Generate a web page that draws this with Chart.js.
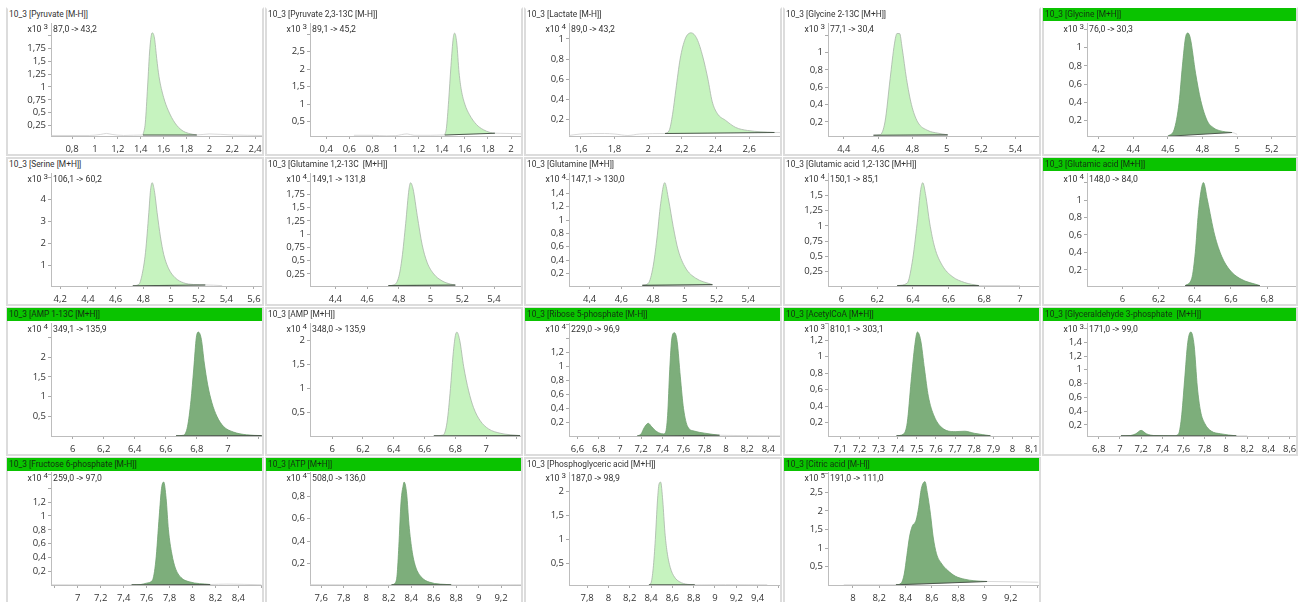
<!DOCTYPE html>
<html lang="en">
<head>
    <meta charset="UTF-8">
    <title>MRM peaks 10_3</title>
    <script src="https://cdn.jsdelivr.net/npm/chart.js@4"></script>
    <style>
        html, body { margin: 0; padding: 0; background: #fff; overflow: hidden; }
        body { width: 1300px; height: 602px; position: relative; font-family: Roboto, sans-serif; color: #333; filter: blur(0.35px); }
        .panel { position: absolute; box-sizing: border-box; border: 2px solid #dcdcdc; background: #fff; }
        .panel.first { border-top-color: transparent; }
        .title { position: absolute; left: -1px; right: 0; top: -1px; height: 13px; line-height: 13px; font-size: 8.4px; padding-left: 2px; white-space: pre; overflow: hidden; }
        .title.on { background: #0ac300; color: #123310; }
        canvas { position: absolute; }
        .label { position: absolute; font-size: 8.7px; line-height: 12px; white-space: nowrap; color: #333; }
        .label sup { font-size: 8px; line-height: 0; vertical-align: 3px; margin-left: 2px; }
    </style>
</head>
<body>
<script>
    const titles = [
        '10_3 [Pyruvate [M-H]]', '10_3 [Pyruvate 2,3-13C [M-H]]', '10_3 [Lactate [M-H]]', '10_3 [Glycine 2-13C [M+H]]', '10_3 [Glycine [M+H]]',
        '10_3 [Serine [M+H]]', '10_3 [Glutamine 1,2-13C  [M+H]]', '10_3 [Glutamine [M+H]]', '10_3 [Glutamic acid 1,2-13C [M+H]]', '10_3 [Glutamic acid [M+H]]',
        '10_3 [AMP 1-13C [M+H]]', '10_3 [AMP [M+H]]', '10_3 [Ribose 5-phosphate [M-H]]', '10_3 [AcetylCoA [M+H]]', '10_3 [Glyceraldehyde 3-phosphate  [M+H]]',
        '10_3 [Fructose 6-phosphate [M-H]]', '10_3 [ATP [M+H]]', '10_3 [Phosphoglyceric acid [M+H]]', '10_3 [Citric acid [M-H]]'
    ];
    const transitions = [
        '87,0 -> 43,2', '89,1 -> 45,2', '89,0 -> 43,2', '77,1 -> 30,4', '76,0 -> 30,3',
        '106,1 -> 60,2', '149,1 -> 131,8', '147,1 -> 130,0', '150,1 -> 85,1', '148,0 -> 84,0',
        '349,1 -> 135,9', '348,0 -> 135,9', '229,0 -> 96,9', '810,1 -> 303,1', '171,0 -> 99,0',
        '259,0 -> 97,0', '508,0 -> 136,0', '187,0 -> 98,9', '191,0 -> 111,0'
    ];
    const exponents = [3, 3, 4, 3, 3, 3, 4, 4, 4, 4, 4, 4, 4, 3, 3, 4, 4, 3, 5];
    const selected = [0, 0, 0, 0, 1, 0, 0, 0, 0, 1, 1, 0, 1, 1, 1, 1, 1, 0, 1];

    const xLimits = [
        [0.616, 2.46], [0.26, 2.086], [1.53, 2.783], [4.308, 5.537], [4.133, 5.34],
        [4.133, 5.658], [4.24, 5.57], [4.27, 5.6], [5.924, 7.107], [5.804, 6.96],
        [5.86, 7.22], [5.856, 7.226], [6.52, 8.51], [7.036, 8.138], [6.69, 8.66],
        [6.766, 8.606], [7.5, 9.377], [7.63, 9.61], [7.81, 9.415]
    ];
    const yLimits = [
        [0.05, 2.24], [0.09, 3.32], [0.035, 1.158], [0.037, 1.341], [0.032, 1.27],
        [0.073, 5.2], [0.023, 2.154], [0.01, 1.705], [0.013, 1.87], [0.015, 1.31],
        [0.01, 2.86], [0.012, 2.36], [0.01, 1.615], [0.037, 1.41], [0.038, 1.68],
        [0.003, 1.635], [0.009, 1.015], [0.056, 2.4], [0.005, 3.05]
    ];
    const xSteps = [0.2, 0.2, 0.2, 0.2, 0.2, 0.2, 0.2, 0.2, 0.2, 0.2, 0.2, 0.2, 0.2, 0.1, 0.2, 0.2, 0.2, 0.2, 0.2];
    const ySteps = [0.25, 0.5, 0.2, 0.2, 0.2, 1, 0.25, 0.2, 0.25, 0.2, 0.5, 0.5, 0.2, 0.2, 0.2, 0.2, 0.2, 0.5, 0.5];
    // ticks from this value up have no label, they would run into the x10 text
    const unlabelledFrom = [2, 3, 9, 1.2, 1.2, 5, 2, 1.6, 1.75, 1.2, 2.5, 9, 1.4, 1.4, 1.6, 1.4, 1, 9, 3];

    // integrated peak, [retention time, intensity]; first and last point sit on the baseline
    const pyruvatePeak = [[1.42,.07],[1.44,.3],[1.46,1],[1.48,1.75],[1.5,2.05],[1.52,1.95],[1.54,1.55],[1.56,1.2],[1.6,.8],[1.64,.55],[1.7,.3],[1.76,.16],[1.82,.1],[1.89,.07]];
    const pyruvate13Peak = [[1.426,.12],[1.44,.3],[1.46,1.1],[1.48,2.1],[1.5,2.9],[1.512,3.03],[1.53,2.75],[1.55,1.9],[1.57,1.4],[1.6,1],[1.64,.7],[1.7,.42],[1.76,.27],[1.82,.19],[1.86,.17]];
    const lactatePeak = [[2.1,.06],[2.125,.09],[2.145,.25],[2.165,.5],[2.19,.8],[2.22,1],[2.255,1.06],[2.29,1],[2.325,.82],[2.355,.6],[2.38,.38],[2.41,.26],[2.46,.19],[2.52,.12],[2.59,.09],[2.75,.07]];
    const glycine13Peak = [[4.573,.046],[4.61,.05],[4.64,.2],[4.67,.7],[4.695,1.1],[4.71,1.22],[4.725,1.22],[4.74,1.05],[4.765,.7],[4.794,.4],[4.83,.2],[4.89,.1],[4.948,.07],[5.005,.05]];
    const glycinePeak = [[4.6,.03],[4.636,.1],[4.665,.4],[4.684,.8],[4.703,1.12],[4.716,1.16],[4.73,1.1],[4.76,.72],[4.79,.42],[4.827,.2],[4.865,.12],[4.9,.09],[4.97,.07]];
    const serinePeak = [[4.725,.08],[4.768,.15],[4.79,.55],[4.816,1.6],[4.84,3.4],[4.852,4.4],[4.864,4.76],[4.88,4.4],[4.9,3.4],[4.924,2.3],[4.948,1.5],[4.984,.85],[5.03,.45],[5.09,.22],[5.164,.14],[5.248,.12]];
    const glutamine13Peak = [[4.734,.03],[4.774,.05],[4.8,.2],[4.82,.55],[4.843,1.2],[4.864,1.85],[4.874,1.97],[4.89,1.85],[4.916,1.35],[4.947,.8],[4.978,.47],[5.02,.25],[5.072,.12],[5.124,.06],[5.156,.04]];
    const glutaminePeak = [[4.732,.02],[4.77,.05],[4.8,.3],[4.823,.7],[4.848,1.25],[4.873,1.56],[4.898,1.3],[4.927,.9],[4.958,.55],[5.005,.28],[5.067,.13],[5.174,.03]];
    const glutamic13Peak = [[6.312,.02],[6.368,.06],[6.396,.4],[6.424,1.05],[6.444,1.6],[6.455,1.71],[6.472,1.5],[6.494,1.05],[6.522,.65],[6.565,.35],[6.62,.17],[6.69,.07],[6.77,.02]];
    const glutamicPeak = [[6.347,.02],[6.383,.1],[6.403,.4],[6.42,.85],[6.436,1.12],[6.448,1.2],[6.47,1],[6.51,.6],[6.55,.35],[6.593,.2],[6.65,.1],[6.76,.02]];
    const amp13Peak = [[6.666,.015],[6.715,.03],[6.74,.25],[6.762,.9],[6.78,1.7],[6.797,2.5],[6.81,2.63],[6.829,2.45],[6.848,1.85],[6.87,1.3],[6.897,.85],[6.93,.5],[6.972,.25],[7.036,.11],[7.12,.04],[7.218,.02]];
    const ampPeak = [[6.66,.015],[6.72,.03],[6.746,.3],[6.768,1],[6.785,1.7],[6.8,2.1],[6.81,2.17],[6.828,2],[6.854,1.45],[6.886,.95],[6.918,.6],[6.961,.33],[7.015,.16],[7.09,.07],[7.22,.02]];
    const ribosePeak = [[7.164,.01],[7.2,.04],[7.23,.13],[7.268,.19],[7.3,.14],[7.35,.07],[7.41,.04],[7.43,.06],[7.45,.3],[7.47,.95],[7.49,1.4],[7.515,1.477],[7.54,1.35],[7.57,.85],[7.6,.4],[7.64,.14],[7.7,.08],[7.8,.05],[7.94,.02]];
    const acetylCoaPeak = [[7.394,.04],[7.43,.06],[7.45,.2],[7.47,.7],[7.49,1.15],[7.503,1.3],[7.52,1.2],[7.54,.85],[7.56,.52],[7.59,.28],[7.63,.14],[7.7,.09],[7.75,.095],[7.8,.07],[7.884,.04]];
    const g3pPeak = [[7.01,.04],[7.1,.045],[7.15,.07],[7.2,.12],[7.25,.07],[7.32,.045],[7.5,.04],[7.55,.06],[7.58,.3],[7.61,.85],[7.64,1.4],[7.669,1.55],[7.7,1.35],[7.73,.75],[7.76,.4],[7.8,.22],[7.86,.11],[7.95,.07],[8.097,.04]];
    const f6pPeak = [[7.469,.005],[7.55,.01],[7.6,.03],[7.65,.07],[7.68,.35],[7.71,1],[7.73,1.4],[7.749,1.49],[7.77,1.25],[7.79,.8],[7.82,.45],[7.85,.25],[7.9,.11],[7.97,.05],[8.154,.01]];
    const atpPeak = [[8.225,.01],[8.26,.03],[8.275,.1],[8.29,.35],[8.31,.75],[8.33,.9],[8.337,.925],[8.36,.82],[8.38,.55],[8.41,.3],[8.44,.17],[8.49,.08],[8.56,.035],[8.756,.01]];
    const pgaPeak = [[8.38,.06],[8.4,.1],[8.42,.4],[8.44,1],[8.46,1.8],[8.475,2.15],[8.49,2.19],[8.51,1.8],[8.53,1.15],[8.55,.75],[8.58,.42],[8.62,.22],[8.67,.12],[8.74,.07],[8.81,.06]];
    const citricPeak = [[8.327,.01],[8.365,.05],[8.39,.3],[8.41,.8],[8.43,1.3],[8.45,1.58],[8.48,1.75],[8.5,2.1],[8.52,2.6],[8.548,2.79],[8.565,2.5],[8.59,1.9],[8.61,1.3],[8.635,.85],[8.67,.6],[8.72,.4],[8.78,.24],[8.85,.16],[8.92,.12],[9.02,.1]];
    const peaks = [pyruvatePeak, pyruvate13Peak, lactatePeak, glycine13Peak, glycinePeak, serinePeak, glutamine13Peak, glutaminePeak, glutamic13Peak, glutamicPeak,
        amp13Peak, ampPeak, ribosePeak, acetylCoaPeak, g3pPeak, f6pPeak, atpPeak, pgaPeak, citricPeak];

    // thin chromatogram outside the peak
    const pyruvateTrace = [[.62,.06],[.8,.06],[.95,.06],[1.05,.08],[1.1,.1],[1.15,.08],[1.25,.06],[1.42,.07],[1.89,.07],[2,.09],[2.2,.07],[2.46,.06]];
    const pyruvate13Trace = [[.64,.11],[.8,.11],[.92,.095],[1,.1],[1.1,.15],[1.16,.11],[1.3,.11],[1.426,.12],[1.86,.17],[2,.16],[2.086,.15]];
    const lactateTrace = [[1.53,.04],[1.6,.055],[1.74,.06],[1.8,.055],[1.88,.04],[1.95,.055],[2.1,.06],[2.75,.07],[2.783,.07]];
    const glycine13Trace = [[4.573,.046],[5.005,.05]];
    const glycineTrace = [[4.6,.03],[4.97,.07],[5,.05]];
    const serineTrace = [[4.72,.08],[5.248,.12],[5.37,.09]];
    const glutamine13Trace = [[4.734,.03],[5.156,.04]];
    const glutamineTrace = [[4.732,.02],[5.174,.03]];
    const glutamic13Trace = [[6.312,.02],[6.77,.02],[7,.02]];
    const glutamicTrace = [[6.347,.02],[6.76,.02]];
    const amp13Trace = [[6.666,.015],[7.218,.02]];
    const ampTrace = [[6.66,.015],[7.22,.02]];
    const riboseTrace = [[7.164,.01],[7.94,.02],[8.2,.015],[8.51,.012]];
    const acetylCoaTrace = [[7.394,.04],[7.884,.04]];
    const g3pTrace = [[7.01,.04],[8.097,.04],[8.2,.04]];
    const f6pTrace = [[6.77,.006],[7.469,.005],[8.154,.01],[8.3,.016],[8.6,.006]];
    const atpTrace = [[7.5,.012],[8.225,.01],[8.756,.01],[9.377,.012]];
    const pgaTrace = [[8.38,.06],[8.81,.06],[9.1,.065],[9.49,.06]];
    const citricTrace = [[7.93,.01],[8.327,.01],[9.02,.1],[9.41,.08]];
    const traces = [pyruvateTrace, pyruvate13Trace, lactateTrace, glycine13Trace, glycineTrace, serineTrace, glutamine13Trace, glutamineTrace, glutamic13Trace, glutamicTrace,
        amp13Trace, ampTrace, riboseTrace, acetylCoaTrace, g3pTrace, f6pTrace, atpTrace, pgaTrace, citricTrace];

    const colLeft = [6, 265, 524, 783, 1042];
    const rowTop = [7, 157, 307, 457];
    const plotTop = [23, 173, 323, 472];
    const AXIS_LEFT = 44;
    const PLOT_H = 113;

    const tickFont = { family: '"Open Sans", sans-serif', size: 9.5 };
    const comma = v => String(+v.toFixed(2)).replace('.', ',');
    const xy = list => list.map(p => ({ x: p[0], y: p[1] }));

    function zeroPadding(scale) {
        scale.paddingLeft = scale.paddingRight = scale.paddingTop = scale.paddingBottom = 0;
    }

    titles.forEach((title, i) => {
        const col = i % 5, row = Math.floor(i / 5);
        const panelW = col === 4 ? 256 : 258;
        const panel = document.createElement('div');
        panel.className = 'panel' + (row === 0 ? ' first' : '');
        panel.style.cssText = `left:${colLeft[col]}px;top:${rowTop[row]}px;width:${panelW}px;height:${row === 3 ? 155 : 149}px`;
        const head = document.createElement('div');
        head.className = 'title' + (selected[i] ? ' on' : '');
        head.textContent = title;
        panel.appendChild(head);
        document.body.appendChild(panel);

        const left = colLeft[col] + 1, top = plotTop[row] - 6;
        const canvas = document.createElement('canvas');
        canvas.width = panelW - 3;
        canvas.height = 6 + PLOT_H + 18;
        canvas.style.left = left + 'px';
        canvas.style.top = top + 'px';
        document.body.appendChild(canvas);

        const exp = document.createElement('div');
        exp.className = 'label';
        exp.style.cssText = `right:${1300 - left - AXIS_LEFT + 3}px;top:${plotTop[row]}px`;
        exp.innerHTML = 'x10<sup>' + exponents[i] + '</sup>';
        document.body.appendChild(exp);

        const trans = document.createElement('div');
        trans.className = 'label';
        trans.style.cssText = `left:${left + AXIS_LEFT + 2}px;top:${plotTop[row]}px`;
        trans.textContent = transitions[i];
        document.body.appendChild(trans);

        const peak = peaks[i];
        const on = selected[i];
        new Chart(canvas, {
            type: 'line',
            data: {
                datasets: [
                    {
                        data: xy(peak), order: 1, fill: '+1',
                        backgroundColor: on ? '#7dae7b' : '#c6f3bf',
                        borderColor: on ? '#6f9f6e' : '#a8b5a8', borderWidth: 0.8,
                        pointRadius: 0, cubicInterpolationMode: 'monotone'
                    },
                    {
                        data: xy([peak[0], peak[peak.length - 1]]), order: 0, fill: false,
                        borderColor: '#4d5a4d', borderWidth: 1.1, pointRadius: 0
                    },
                    {
                        data: xy(traces[i]), order: 2, fill: false,
                        borderColor: '#cfcfcf', borderWidth: 0.8, pointRadius: 0,
                        cubicInterpolationMode: 'monotone'
                    }
                ]
            },
            options: {
                responsive: false,
                animation: false,
                events: [],
                layout: { padding: { top: 6, left: 0, right: 0, bottom: 0 } },
                plugins: { legend: { display: false }, tooltip: { enabled: false }, title: { display: false } },
                scales: {
                    x: {
                        type: 'linear', min: xLimits[i][0], max: xLimits[i][1],
                        afterFit: s => { s.height = 18; zeroPadding(s); },
                        border: { color: '#bdbdbd' },
                        grid: { drawOnChartArea: false, tickLength: 3, color: '#aaa' },
                        ticks: {
                            stepSize: xSteps[i], includeBounds: false, autoSkip: false, maxRotation: 0,
                            padding: 5, color: '#333', font: tickFont,
                            callback: v => {
                                const frac = (v - xLimits[i][0]) / (xLimits[i][1] - xLimits[i][0]);
                                return frac < 0.025 || frac > 0.975 ? '' : comma(v);
                            }
                        }
                    },
                    y: {
                        min: yLimits[i][0], max: yLimits[i][1],
                        afterFit: s => { s.width = AXIS_LEFT; zeroPadding(s); },
                        border: { color: '#bdbdbd' },
                        grid: { drawOnChartArea: false, tickLength: 3, color: '#aaa' },
                        ticks: {
                            stepSize: ySteps[i], includeBounds: false, padding: 2, color: '#333', font: tickFont,
                            callback: v => v > unlabelledFrom[i] - 1e-6 ? '' : comma(v)
                        }
                    }
                }
            }
        });
    });
</script>
</body>
</html>
